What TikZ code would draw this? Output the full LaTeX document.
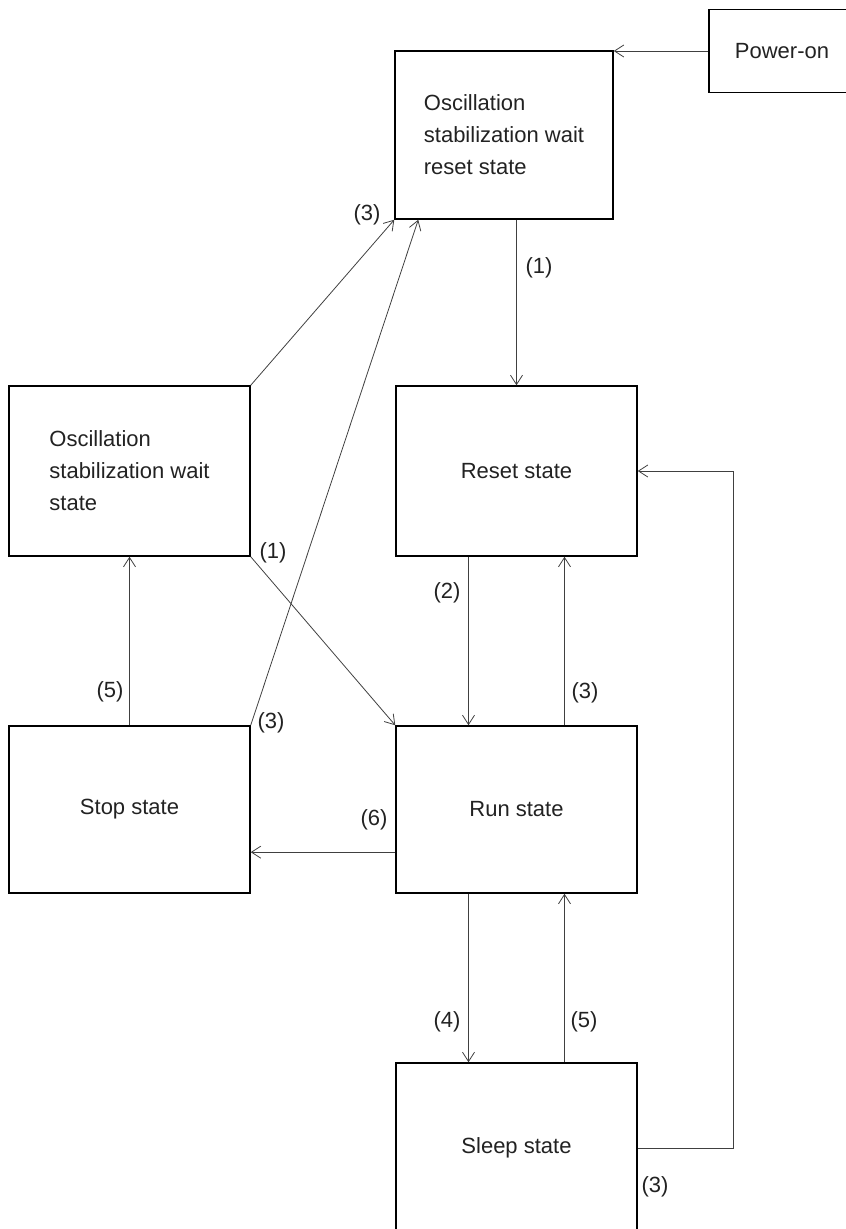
\documentclass[tikz,border=0pt]{standalone}
\usepackage{fontspec}
\setmainfont{Liberation Sans}
\usetikzlibrary{arrows.meta}

\begin{document}
\begin{tikzpicture}[x=0.75pt, y=-0.75pt,
  state/.style={draw=black, line width=1.1pt, inner sep=0pt,
    minimum width=180.75pt, minimum height=127.5pt,
    text=txtgray, align=left, font=\fontsize{16.5}{24}\selectfont},
  trans/.style={draw=linegray, line width=0.6pt,
    -{Straight Barb[length=7pt,width=9pt]}},
  num/.style={text=txtgray, inner sep=0pt, font=\fontsize{16.5}{20}\selectfont}]
  \definecolor{txtgray}{HTML}{222222}
  \definecolor{linegray}{HTML}{404040}

  % ---- page frame, also cuts the two boxes that run off the edge -----------
  \clip (0,0) rectangle (846,1229);

  % ---- states --------------------------------------------------------------
  \node[state, minimum width=109.5pt, minimum height=62.25pt] (power) at (782,51) {Power-on};
  \node[state, minimum width=163.5pt, minimum height=126pt] (oswr) at (504,135)
    {Oscillation\\stabilization wait\\reset state};
  \node[state] (osw) at (129.5,471) {Oscillation\\stabilization wait\\state};
  \node[state] (reset) at (516.5,471) {Reset state};
  \node[state, minimum height=125.25pt] (stop) at (129.5,809.5) {Stop state};
  \node[state, minimum height=125.25pt] (run) at (516.5,809.5) {Run state};
  \node[state] (sleep) at (516.5,1148) {Sleep state};

  % ---- transitions ---------------------------------------------------------
  \draw[trans] (power.west) -- (power.west -| oswr.east);
  \draw[trans] (oswr.south -| reset.north) -- (reset.north);
  \draw[trans] (osw.north east) -- (oswr.south west);
  \draw[trans] (stop.north east) -- ([xshift=18pt]oswr.south west);
  \draw[trans] (osw.south east) -- (run.north west);
  \draw[trans] ([xshift=-36pt]reset.south) -- ([xshift=-36pt]run.north);
  \draw[trans] ([xshift=36pt]run.north) -- ([xshift=36pt]reset.south);
  \draw[trans] ([yshift=-32pt]run.west) -- ([yshift=-32pt]run.west -| stop.east);
  \draw[trans] (stop.north) -- (osw.south);
  \draw[trans] ([xshift=-36pt]run.south) -- ([xshift=-36pt]sleep.north);
  \draw[trans] ([xshift=36pt]sleep.north) -- ([xshift=36pt]run.south);
  \draw[trans] (sleep.east) -- ++(96,0) |- (reset.east);

  % ---- transition numbers --------------------------------------------------
  \node[num] (n1a) at (539,268) {(1)};
  \node[num] (n3a) at (367,215) {(3)};
  \node[num] (n1b) at (273,553) {(1)};
  \node[num] (n3b) at (271,723) {(3)};
  \node[num] (n2) at (447,593) {(2)};
  \node[num] (n3c) at (585,693) {(3)};
  \node[num] (n6) at (374,820) {(6)};
  \node[num] (n5a) at (110,692) {(5)};
  \node[num] (n4) at (447,1022) {(4)};
  \node[num] (n5b) at (584,1022) {(5)};
  \node[num] (n3d) at (655,1187) {(3)};
\end{tikzpicture}
\end{document}
